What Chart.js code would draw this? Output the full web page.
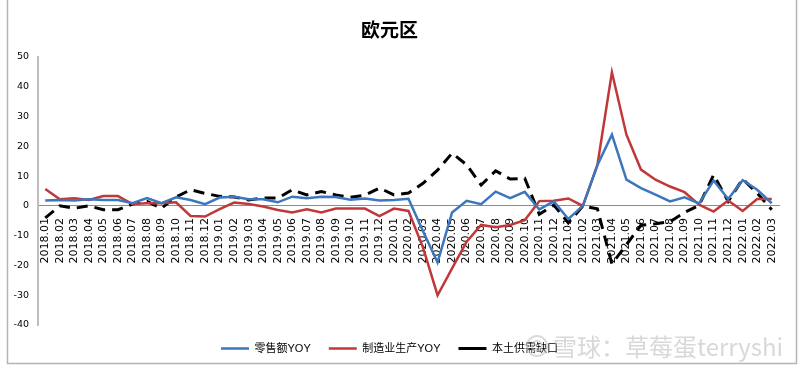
<!DOCTYPE html>
<html><head><meta charset="utf-8">
<script src="https://cdn.jsdelivr.net/npm/chart.js@4/dist/chart.umd.min.js"></script>
<style>html,body{margin:0;padding:0;background:#fff}#wrap{width:800px;height:369px;position:relative}</style>
</head><body><div id="wrap"><canvas id="c"></canvas></div>
<script>
const categories = [
 '2018.01','2018.02','2018.03','2018.04','2018.05','2018.06','2018.07','2018.08','2018.09','2018.10','2018.11','2018.12',
 '2019.01','2019.02','2019.03','2019.04','2019.05','2019.06','2019.07','2019.08','2019.09','2019.10','2019.11','2019.12',
 '2020.01','2020.02','2020.03','2020.04','2020.05','2020.06','2020.07','2020.08','2020.09','2020.10','2020.11','2020.12',
 '2021.01','2021.02','2021.03','2021.04','2021.05','2021.06','2021.07','2021.08','2021.09','2021.10','2021.11','2021.12',
 '2022.01','2022.02','2022.03'];
const retailYoY = [
 1.8,2.0,1.8,2.2,2.0,2.0,0.9,2.6,0.9,2.9,2.0,0.6,
 2.8,3.1,2.2,2.2,1.2,3.1,2.6,3.1,3.0,2.1,2.5,1.8,
 2.0,2.4,-8.5,-19.0,-2.2,1.7,0.6,4.8,2.6,4.7,-1.2,1.5,
 -4.4,0.0,13.7,23.9,8.8,6.0,3.8,1.5,2.9,0.8,8.5,2.3,
 8.6,5.4,0.9];
const manufacturingYoY = [
 5.7,2.2,2.6,2.0,3.3,3.3,0.6,0.9,0.9,1.2,-3.4,-3.6,
 -1.1,1.1,0.6,-0.2,-1.4,-2.2,-1.1,-2.2,-0.9,-0.9,-0.9,-3.4,
 -0.9,-1.7,-14.0,-30.0,-21.0,-12.0,-6.4,-7.2,-6.4,-4.8,1.6,1.7,
 2.5,0.0,13.7,44.9,23.9,12.2,8.8,6.5,4.6,0.4,-1.9,1.8,
 -1.7,2.3,2.3];
const supplyDemandGap = [
 -4.0,0.0,-0.8,0.0,-1.3,-1.3,0.6,1.5,-0.8,3.0,5.4,4.2,
 3.2,3.0,2.0,2.7,2.6,5.4,3.7,4.8,3.7,2.9,3.6,6.0,
 3.7,4.3,7.6,12.0,17.7,13.8,7.0,11.8,9.0,9.3,-2.8,0.3,
 -5.7,0.0,-1.0,-19.5,-13.0,-6.5,-6.0,-5.3,-2.2,0.2,10.4,1.5,
 9.0,4.3,-1.3];
const seriesNames = ['零售额YOY','制造业生产YOY','本土供需缺口'];
const titleText = '欧元区';
const watermarkText = '雪球：草莓蛋terryshi';
const yMin = -40, yMax = 50, yStep = 10;

const frame = {
  id: 'frame',
  afterDraw(chart) {
    const ctx = chart.ctx;
    ctx.save();
    ctx.strokeStyle = '#b4b4b4';
    ctx.lineWidth = 1.5;
    ctx.beginPath();
    ctx.moveTo(7.5, 0); ctx.lineTo(7.5, 363.5); ctx.lineTo(796.5, 363.5); ctx.lineTo(796.5, 0);
    ctx.stroke();
    ctx.globalAlpha = 0.55;
    ctx.strokeStyle = '#bdbdbd';
    ctx.lineWidth = 2;
    ctx.beginPath(); ctx.arc(537, 346, 10, 0, Math.PI * 2); ctx.stroke();
    ctx.beginPath(); ctx.arc(537, 346, 5, 0, Math.PI * 2); ctx.stroke();
    ctx.fillStyle = '#b8b8b8';
    ctx.font = '24px "Noto Sans CJK SC", "Liberation Sans"';
    ctx.textBaseline = 'middle';
    ctx.textAlign = 'left';
    ctx.fillText(watermarkText, 553, 347);
    ctx.restore();
  }
};

new Chart(document.getElementById('c'), {
  type: 'line',
  data: {
    labels: categories,
    datasets: [
      { label: seriesNames[0], data: retailYoY, borderColor: '#3c76bc', backgroundColor: '#3c76bc', borderWidth: 2.5, pointRadius: 0, pointStyle: 'line', tension: 0 },
      { label: seriesNames[1], data: manufacturingYoY, borderColor: '#c0383a', backgroundColor: '#c0383a', borderWidth: 2.5, pointRadius: 0, pointStyle: 'line', tension: 0 },
      { label: seriesNames[2], data: supplyDemandGap, borderColor: '#000', backgroundColor: '#000', borderWidth: 3, borderDash: [11, 7], pointRadius: 0, pointStyle: 'line', tension: 0 }
    ]
  },
  options: {
    responsive: true,
    maintainAspectRatio: false,
    animation: false,
    devicePixelRatio: 1,
    layout: { padding: { left: 0, right: 21, top: 0, bottom: 5 } },
    plugins: {
      title: {
        display: true, text: titleText, color: '#000',
        font: { family: '"Noto Sans CJK SC"', size: 19, weight: 'bold' },
        padding: { top: 18.6, bottom: 15.6 }
      },
      legend: {
        position: 'bottom',
        labels: {
          usePointStyle: true, pointStyle: 'line', pointStyleWidth: 28, boxWidth: 28,
          padding: 18, color: '#000',
          font: { family: '"Liberation Sans", "Noto Sans CJK SC"', size: 11 }
        }
      },
      tooltip: { enabled: false }
    },
    scales: {
      x: {
        type: 'category',
        offset: true,
        position: { y: 0 },
        grid: { display: false },
        border: { display: true, color: '#8c8c8c', width: 1 },
        ticks: { autoSkip: false, minRotation: 90, maxRotation: 90, padding: 4, color: '#000',
          font: { family: '"DejaVu Sans"', size: 11 } },
        afterFit: s => { s.height = 0; }
      },
      y: {
        min: yMin, max: yMax,
        grid: { display: false, drawTicks: false },
        border: { display: true, color: '#bdbdbd', width: 2 },
        ticks: { stepSize: yStep, padding: 9, color: '#000', font: { family: '"DejaVu Sans"', size: 9.5 } },
        afterFit: s => { s.width = 38; }
      }
    }
  },
  plugins: [frame]
});
</script></body></html>
